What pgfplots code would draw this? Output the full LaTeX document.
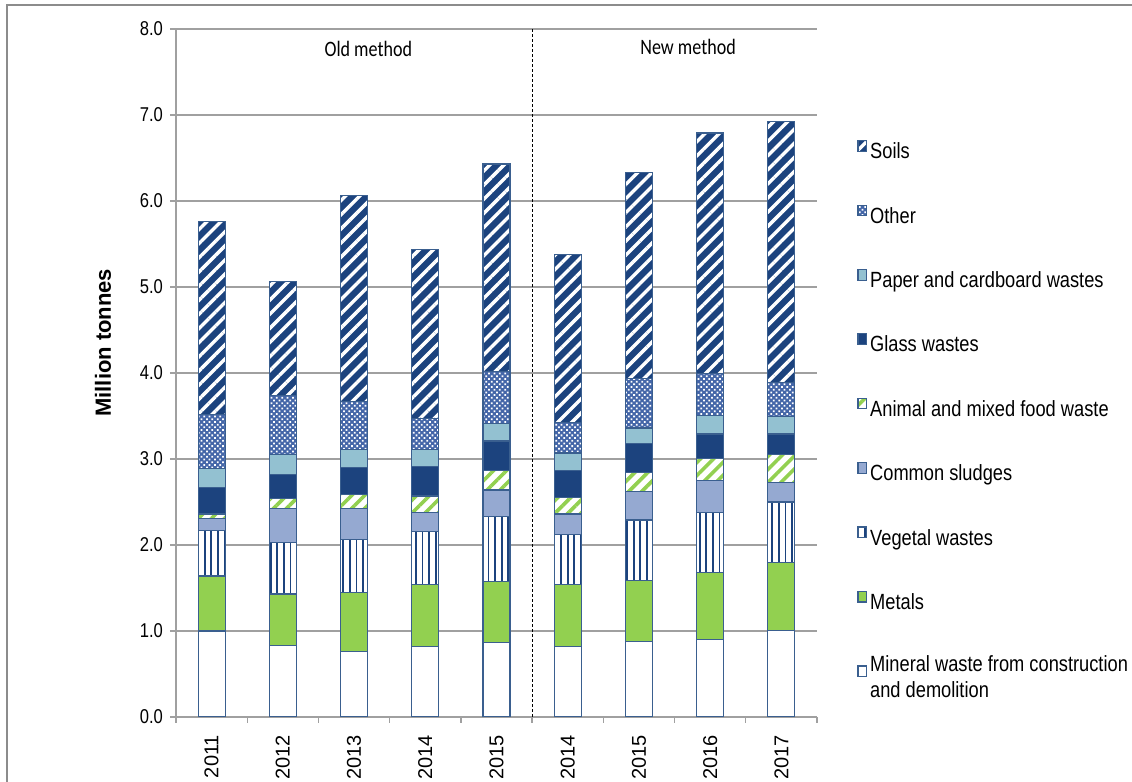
\documentclass[border=0pt]{standalone}
\usepackage{pgfplots}
\usepackage{pgfplotstable}
\pgfplotsset{compat=1.18}
\usetikzlibrary{patterns.meta}
\usepackage{fontspec}
\setmainfont{Liberation Sans}
\newfontfamily\narrowfont[FakeStretch=0.83]{Liberation Sans}
\newfontfamily\calfont[FakeStretch=0.82]{Carlito}

\definecolor{dkblue}{HTML}{1C437E}
\definecolor{edge}{HTML}{3A5F8F}
\definecolor{paperblue}{HTML}{93C1D1}
\definecolor{sludge}{HTML}{95A9D1}
\definecolor{metal}{HTML}{92D050}
\definecolor{othblue}{HTML}{4466A8}
\definecolor{gridgray}{HTML}{A0A0A0}
\definecolor{framegray}{HTML}{8C8C8C}

% Waste treated, million tonnes, by category (stack increments)
% x: 0-4 = 2011-2015 (old method), 5-8 = 2014-2017 (new method)
\pgfplotstableread{
x mineral metals vegetal sludges animal glass paper other soils
0 1.00 0.64 0.53 0.14 0.05 0.31 0.22 0.63 2.24
1 0.83 0.60 0.60 0.39 0.12 0.28 0.23 0.69 1.32
2 0.76 0.69 0.61 0.36 0.17 0.31 0.21 0.56 2.39
3 0.82 0.72 0.62 0.22 0.19 0.34 0.20 0.36 1.97
4 0.87 0.71 0.75 0.31 0.23 0.34 0.20 0.61 2.41
5 0.82 0.72 0.58 0.24 0.19 0.32 0.20 0.35 1.96
6 0.88 0.71 0.70 0.33 0.22 0.34 0.18 0.58 2.39
7 0.90 0.78 0.70 0.37 0.26 0.28 0.22 0.48 2.80
8 1.01 0.79 0.70 0.23 0.32 0.24 0.20 0.40 3.03
}\waste

\begin{document}
\begin{tikzpicture}
\begin{axis}[
  scale only axis, width=320.5pt, height=344pt,
  at={(0pt,0pt)}, anchor=south west,
  ybar stacked, bar width=13.5pt,
  xmin=-0.5, xmax=8.5, ymin=0, ymax=8,
  xtick={0,...,8},
  xticklabels={2011,2012,2013,2014,2015,2014,2015,2016,2017},
  minor xtick={-0.5,0.5,...,8.5},
  ytick={0,...,8},
  /pgf/number format/assume math mode=true,
  yticklabel style={/pgf/number format/.cd, fixed, fixed zerofill, precision=1,
    /tikz/.cd, font=\narrowfont\fontsize{10}{11}\selectfont},
  xticklabel style={rotate=90, anchor=east, font=\fontsize{10}{12}\selectfont},
  xticklabel shift=2.5pt,
  axis x line*=bottom, axis y line*=left,
  axis line style={gridgray, line width=0.65pt},
  tick align=outside, major tick length=3pt, minor tick length=3pt,
  tick style={gridgray, line width=0.65pt},
  major x tick style={draw=none},
  ymajorgrids, grid style={gridgray, line width=0.65pt},
  ylabel={Million tonnes},
  ylabel style={font=\bfseries\fontsize{11}{13}\selectfont,
    at={(axis description cs:-0.114,0.544)}, anchor=center},
  every axis plot/.append style={draw=edge, line width=0.6pt},
  legend image code/.code={\draw[#1] (0pt,0.5pt) rectangle (4.2pt,5.8pt);},
  reverse legend,
  legend cell align=left,
  legend style={at={(axis description cs:1.0624,0.839)}, anchor=north west,
    draw=none, fill=none, inner sep=0pt, row sep=21.35pt,
    font=\narrowfont\fontsize{11}{13}\selectfont,
    nodes={inner ysep=0pt, inner xsep=1.6pt, align=left}},
]
\addplot[fill=white] table[x=x, y=mineral]{\waste};
\addlegendentry{Mineral waste from construction\\and demolition}
\addplot[fill=metal] table[x=x, y=metals]{\waste};
\addlegendentry{Metals}
\addplot[preaction={fill=white}, pattern={Lines[angle=90,distance=3.3pt,line width=0.9pt]}, pattern color=dkblue] table[x=x, y=vegetal]{\waste};
\addlegendentry{Vegetal wastes}
\addplot[fill=sludge] table[x=x, y=sludges]{\waste};
\addlegendentry{Common sludges}
\addplot[preaction={fill=white}, pattern={Lines[angle=45,distance=4.6pt,line width=1.8pt]}, pattern color=metal] table[x=x, y=animal]{\waste};
\addlegendentry{Animal and mixed food waste}
\addplot[fill=dkblue] table[x=x, y=glass]{\waste};
\addlegendentry{Glass wastes}
\addplot[fill=paperblue] table[x=x, y=paper]{\waste};
\addlegendentry{Paper and cardboard wastes}
\addplot[preaction={fill=othblue}, pattern={Dots[angle=45,distance=1.9pt,radius=0.62pt]}, pattern color=white] table[x=x, y=other]{\waste};
\addlegendentry{Other}
\addplot[preaction={fill=dkblue}, pattern={Lines[angle=45,distance=5pt,line width=1.7pt]}, pattern color=white] table[x=x, y=soils]{\waste};
\addlegendentry{Soils}

\draw[black, line width=0.5pt, dash pattern=on 1.5pt off 1pt] (axis cs:4.5,0) -- (axis cs:4.5,8);
\node[font=\calfont\fontsize{11}{13}\selectfont] at (axis cs:2.2,7.77) {Old method};
\node[font=\calfont\fontsize{11}{13}\selectfont] at (axis cs:6.69,7.79) {New method};
\end{axis}
\draw[framegray, line width=0.8pt] (-84.5pt,-32.5pt) -- (-84.5pt,356pt) -- (478pt,356pt);
\pgfresetboundingbox
\path (-88pt,-32.5pt) rectangle (478pt,358.5pt);
\end{tikzpicture}
\end{document}
